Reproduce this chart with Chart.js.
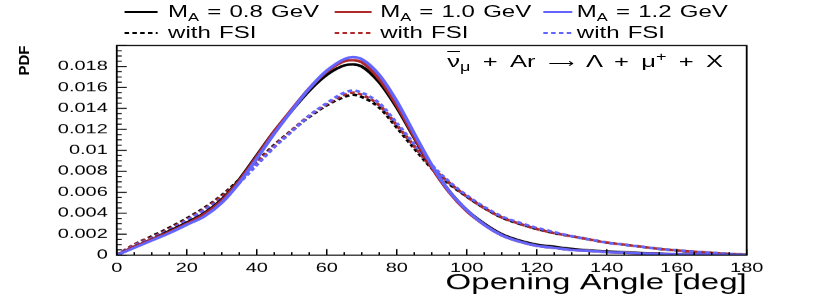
<!DOCTYPE html>
<html>
<head>
<meta charset="utf-8">
<script src="https://cdn.jsdelivr.net/npm/chart.js@4.4.0/dist/chart.umd.min.js"></script>
<style>
html,body{margin:0;padding:0;background:#fff;overflow:hidden;width:830px;height:294px}
#wrap{position:absolute;left:0;top:0;width:553px;height:294px;transform:scaleX(1.50090);transform-origin:0 0;font-family:"Liberation Sans",Arial,Helvetica,sans-serif;color:#000}
#c{position:absolute;left:0;top:0}
.lg{position:absolute;font-size:16px;line-height:16px;white-space:nowrap;word-spacing:1px}
.sb{font-size:11px;position:relative;top:4px}
.sp{font-size:12px;position:relative;top:-6px}
.ln{position:absolute;overflow:visible}
#ann{position:absolute;left:298px;top:52.5px;font-size:17px;line-height:17px;white-space:nowrap;word-spacing:3.5px}
#ann .sb{font-size:12px;top:4px}
.arr{font-family:"DejaVu Sans",sans-serif;font-size:12px}
.bar{text-decoration:overline}
#ytitle{position:absolute;left:-0.5px;top:52.5px;width:31px;height:15px;font-size:15px;font-weight:bold;line-height:15px;text-align:center;white-space:nowrap;transform:scaleX(0.66627) rotate(-90deg);transform-origin:50% 50%}
</style>
</head>
<body>
<div id="wrap">
  <canvas id="c" width="553" height="294"></canvas>
  <div id="legend"></div>
  <div id="ytitle"></div>
  <div id="ann"><span class="bar">ν</span><span class="sb">μ</span> + Ar <span class="arr">⟶</span> Λ + μ<span class="sp">+</span> + X</div>
</div>
<script>
// ---- data ----
const angles = [0,5,10,15,20,25,30,35,40,45,50,55,60,65,67.5,70,75,80,85,90,95,100,105,110,115,120,125,130,135,140,145,150,155,160,165,170,175,180];
const ma08 = [0,0.0008,0.0015,0.0023,0.0031,0.0040,0.0053,0.0072,0.0095,0.0118,0.0138,0.0157,0.0172,0.0181,0.0182,0.0180,0.0165,0.0141,0.0112,0.0084,0.0061,0.0043,0.0030,0.0020,0.0014,0.0010,0.0008,0.0006,0.00045,0.00035,0.00027,0.0002,0.00015,0.00011,0.00008,0.00005,0.00003,0.00001];
const ma10 = [0,0.0008,0.0015,0.0022,0.0030,0.0039,0.0052,0.0071,0.0094,0.0118,0.0139,0.0159,0.0175,0.0185,0.0186,0.0184,0.0168,0.0143,0.0113,0.0084,0.0060,0.0042,0.0029,0.0019,0.0013,0.0009,0.0007,0.0005,0.0004,0.0003,0.00023,0.00017,0.00013,0.0001,0.00007,0.00005,0.00003,0.00001];
const ma12 = [0,0.0007,0.0014,0.0021,0.0029,0.0037,0.0050,0.0069,0.0092,0.0116,0.0138,0.0159,0.0176,0.0187,0.0189,0.0187,0.0172,0.0147,0.0116,0.0086,0.0061,0.0043,0.0029,0.0019,0.0013,0.0009,0.0007,0.0005,0.0004,0.0003,0.00023,0.00017,0.00013,0.0001,0.00007,0.00005,0.00003,0.00001];
const fsi08 = [0,0.0010,0.0018,0.0026,0.0035,0.0045,0.0057,0.0072,0.0089,0.0105,0.0119,0.0132,0.0143,0.0151,0.0153,0.0151,0.0141,0.0122,0.0102,0.0083,0.0068,0.0056,0.0045,0.0036,0.0030,0.0025,0.0021,0.0018,0.0015,0.0012,0.0010,0.0008,0.0006,0.00045,0.00033,0.00022,0.00012,0.00004];
const fsi10 = [0,0.0010,0.0017,0.0025,0.0034,0.0044,0.0056,0.0071,0.0088,0.0104,0.0119,0.0133,0.0144,0.0153,0.0155,0.0153,0.0143,0.0124,0.0104,0.0084,0.0069,0.0056,0.0045,0.0036,0.0030,0.0025,0.0021,0.0018,0.0015,0.0012,0.0010,0.0008,0.0006,0.00045,0.00033,0.00022,0.00012,0.00004];
const fsi12 = [0,0.0009,0.0016,0.0024,0.0033,0.0043,0.0054,0.0069,0.0086,0.0103,0.0118,0.0133,0.0145,0.0155,0.0157,0.0155,0.0145,0.0126,0.0106,0.0086,0.0070,0.0057,0.0046,0.0037,0.0031,0.0026,0.0022,0.0018,0.0015,0.0012,0.0010,0.0008,0.0006,0.00046,0.00034,0.00023,0.00013,0.00005];
const xTickValues = [0,20,40,60,80,100,120,140,160,180];
const xTickLabels = ['0','20','40','60','80','100','120','140','160','180'];
const yTickValues = [0,0.002,0.004,0.006,0.008,0.01,0.012,0.014,0.016,0.018];
const yTickLabels = ['0','0.002','0.004','0.006','0.008','0.01','0.012','0.014','0.016','0.018'];
const massLabels = ['0.8','1.0','1.2'];
const xTitle = 'Opening Angle [deg]';
const yTitle = 'PDF';

// ---- styling ----
const S = 830/553;               // horizontal stretch of the whole figure
const FONT = '"Liberation Sans", Arial, Helvetica, sans-serif';
const colors = ['#000000','#b02828','#6464ff'];
const DASH = [3.2, 2.2];
const LW = 2.5;

const solid = [ma08, ma10, ma12];
const dashed = [fsi08, fsi10, fsi12];
const pts = arr => angles.map((a,i)=>({x:a,y:arr[i]}));

const datasets = [];
dashed.forEach((arr,i)=>datasets.push({label:'with FSI', data:pts(arr), borderColor:colors[i], borderDash:DASH, borderWidth:LW, order:5-i}));
solid.forEach((arr,i)=>datasets.push({label:'M_A = '+massLabels[i]+' GeV', data:pts(arr), borderColor:colors[i], borderWidth:LW, order:2-i}));

const frameTicks = {
  id:'frameTicks',
  afterDatasetsDraw(chart){
    const {ctx, chartArea:a, scales:{x,y}} = chart;
    ctx.save();
    ctx.strokeStyle = '#000';
    ctx.lineWidth = 1;
    ctx.beginPath();
    for(let k=0;k<=40;k++){
      const py = y.getPixelForValue(k*0.0005);
      const len = (k%4===0 ? 10 : 5)/S;
      ctx.moveTo(a.left, py); ctx.lineTo(a.left+len, py);
    }
    for(let k=0;k<=36;k++){
      const px = x.getPixelForValue(k*5);
      const len = k%4===0 ? 6 : 3;
      ctx.moveTo(px, a.bottom); ctx.lineTo(px, a.bottom-len);
    }
    ctx.stroke();
    ctx.lineWidth = 1.2;
    ctx.strokeRect(a.left, a.top, a.right-a.left, a.bottom-a.top);
    ctx.restore();
  }
};

new Chart(document.getElementById('c'), {
  type:'line',
  data:{datasets},
  plugins:[frameTicks],
  options:{
    responsive:false, animation:false, devicePixelRatio:S,
    layout:{padding:{top:45.5, right:55.5, left:0, bottom:0}},
    plugins:{legend:{display:false}, tooltip:{enabled:false}},
    elements:{point:{radius:0}, line:{cubicInterpolationMode:'monotone'}},
    scales:{
      x:{type:'linear', min:0, max:180,
        grid:{display:false, drawTicks:false}, border:{display:false},
        afterBuildTicks(s){ s.ticks = xTickValues.map(v=>({value:v})); },
        ticks:{autoSkip:false, maxRotation:0, padding:5, color:'#000', font:{family:FONT, size:13.3},
          callback:v=>xTickLabels[xTickValues.indexOf(v)]},
        title:{display:true, text:xTitle, align:'end', color:'#000', font:{family:FONT, size:22, lineHeight:1}, padding:{top:0,bottom:0}},
        afterFit(s){ s.height = 39; }
      },
      y:{type:'linear', min:0, max:0.02,
        grid:{display:false, drawTicks:false}, border:{display:false},
        afterBuildTicks(s){ s.ticks = yTickValues.map(v=>({value:v})); },
        ticks:{autoSkip:false, padding:6, color:'#000', font:{family:FONT, size:13.3},
          callback:v=>yTickLabels[yTickValues.indexOf(v)]},
        title:{display:false, text:yTitle},
        afterFit(s){ s.width = 77.8; }
      }
    }
  }
});
document.getElementById('ytitle').textContent = yTitle;

// ---- legend (two rows, three columns) ----
const lg = document.getElementById('legend');
const colLine = [[82.7,104.7],[222.7,247.3],[362,381.3]];
const colText = [112, 253.3, 384.3];
const rowY = [12, 33];
for(let r=0;r<2;r++){
  for(let i=0;i<3;i++){
    const [x0,x1] = colLine[i];
    const w = x1-x0;
    const svg = document.createElementNS('http://www.w3.org/2000/svg','svg');
    svg.setAttribute('class','ln');
    svg.setAttribute('width', w); svg.setAttribute('height', 4);
    svg.style.left = x0+'px'; svg.style.top = (rowY[r]-2)+'px';
    const ln = document.createElementNS('http://www.w3.org/2000/svg','line');
    ln.setAttribute('x1',0); ln.setAttribute('y1',2); ln.setAttribute('x2',w); ln.setAttribute('y2',2);
    ln.setAttribute('stroke',colors[i]); ln.setAttribute('stroke-width',2);
    if(r===1) ln.setAttribute('stroke-dasharray','3 2.2');
    svg.appendChild(ln); lg.appendChild(svg);
    const t = document.createElement('div');
    t.className='lg';
    t.style.left = colText[i]+'px'; t.style.top = (rowY[r]-8)+'px';
    if(r===0) t.innerHTML = 'M<span class="sb">A</span> = '+massLabels[i]+' GeV';
    else t.textContent = 'with FSI';
    lg.appendChild(t);
  }
}
</script>
</body>
</html>
